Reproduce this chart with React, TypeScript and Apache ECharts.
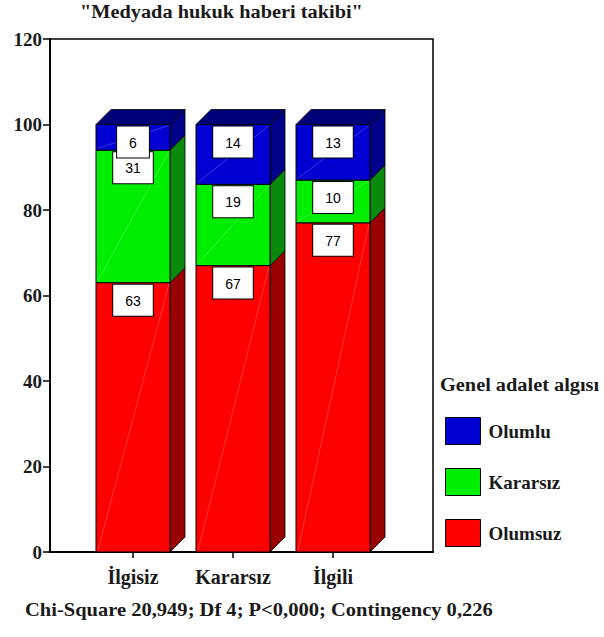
import React, { useEffect, useRef } from "react";
import * as echarts from "echarts";

const categories = ["İlgisiz", "Kararsız", "İlgili"];
const seriesNames = ["Olumsuz", "Kararsız", "Olumlu"];
const olumsuz = [63, 67, 77];
const kararsiz = [31, 19, 10];
const olumlu = [6, 14, 13];
const yTicks = [0, 20, 40, 60, 80, 100, 120];
const legendOrder = ["Olumlu", "Kararsız", "Olumsuz"];
const titleText = '"Medyada hukuk haberi takibi"';
const legendTitle = "Genel adalet algısı";
const footerText = "Chi-Square 20,949; Df 4; P<0,000; Contingency 0,226";

const colors = {
  Olumsuz: { front: "#ff0000", side: "#9a0000", top: "#7a0000" },
  Kararsız: { front: "#00ee00", side: "#0a8a0a", top: "#066006" },
  Olumlu: { front: "#0000d2", side: "#00008a", top: "#000078" },
} as Record<string, { front: string; side: string; top: string }>;

const SERIF = "Liberation Serif";
const SANS = "Liberation Sans";
const INK = "#1a1a1a";

export default function App() {
  const ref = useRef<HTMLDivElement>(null);
  useEffect(() => {
    if (!ref.current) return;
    const chart = echarts.init(ref.current, null, { renderer: "svg" });
    const stacks = [olumsuz, kararsiz, olumlu];
    const seriesList = seriesNames.map((name, si) => {
      const data = categories.map((_, ci) => {
        let base = 0;
        for (let k = 0; k < si; k++) base += stacks[k][ci];
        return [ci, base, base + stacks[si][ci], stacks[si][ci]];
      });
      const isTop = si === seriesNames.length - 1;
      const c = colors[name];
      return {
        name,
        type: "custom",
        xAxisIndex: 1,
        yAxisIndex: 1,
        itemStyle: { color: c.front, borderColor: "#000", borderWidth: 1 },
        encode: { x: 0, y: [1, 2] },
        data,
        z: 2 + si,
        renderItem: (params: any, api: any) => {
          const cat = api.value(0);
          const base = api.value(1);
          const top = api.value(2);
          const val = api.value(3);
          const pb = api.coord([cat, base]);
          const pt = api.coord([cat, top]);
          const band = api.size([1, 0])[0];
          const w = band * 0.74;
          const d = band * 0.15;
          const x0 = pb[0] - w / 2;
          const x1 = pb[0] + w / 2;
          const yb = pb[1];
          const yt = pt[1];
          const children: any[] = [
            {
              type: "polygon",
              shape: { points: [[x1, yt], [x1 + d, yt - d], [x1 + d, yb - d], [x1, yb]] },
              style: { fill: c.side, stroke: "#000", lineWidth: 0.8 },
            },
            {
              type: "rect",
              shape: { x: x0, y: yt, width: w, height: yb - yt },
              style: { fill: c.front, stroke: "#000", lineWidth: 1 },
            },
            {
              type: "line",
              shape: { x1: x0 + 2, y1: yb - 2, x2: x1 - 1, y2: yt + 1 },
              style: { stroke: "rgba(255,255,255,0.22)", lineWidth: 1 },
            },
          ];
          if (isTop) {
            children.push({
              type: "polygon",
              shape: { points: [[x0, yt], [x0 + d, yt - d], [x1 + d, yt - d], [x1, yt]] },
              style: { fill: c.top, stroke: "#000", lineWidth: 0.8 },
            });
          }
          children.push({
            type: "text",
            z2: 10,
            style: {
              text: String(val),
              x: pb[0],
              y: yt + 2,
              align: "center",
              verticalAlign: "top",
              fill: "#000",
              fontFamily: SANS,
              fontSize: 14,
              backgroundColor: "#fff",
              borderColor: "#000",
              borderWidth: 1,
              padding: [9, 12, 8, 12],
            },
          });
          return { type: "group", children };
        },
      };
    });

    const labelFont = { fontFamily: SERIF, fontWeight: "bold", fontSize: 19, color: INK };

    chart.setOption({
      animation: false,
      backgroundColor: "#fff",
      grid: [
        {
          left: 50,
          top: 39,
          width: 383,
          height: 513,
          show: true,
          borderColor: "#000",
          borderWidth: 1.5,
          backgroundColor: "transparent",
        },
        { left: 83, top: 39, width: 300, height: 513 },
      ],
      xAxis: [
        {
          gridIndex: 0,
          type: "category",
          data: categories,
          axisLine: { show: true, lineStyle: { color: "#000", width: 2 } },
          axisTick: { show: false },
          axisLabel: { show: false },
        },
        {
          gridIndex: 1,
          type: "category",
          data: categories,
          axisLine: { show: false },
          axisTick: { show: true, alignWithLabel: true, length: 6, lineStyle: { color: "#000", width: 1.5 } },
          axisLabel: { margin: 15, ...labelFont, fontSize: 20 },
        },
      ],
      yAxis: [
        {
          gridIndex: 0,
          type: "value",
          min: yTicks[0],
          max: yTicks[yTicks.length - 1],
          interval: 20,
          splitLine: { show: false },
          axisLine: { show: true, lineStyle: { color: "#000", width: 2 } },
          axisTick: { show: true, length: 7, lineStyle: { color: "#000", width: 1.5 } },
          axisLabel: { margin: 8, ...labelFont },
        },
        {
          gridIndex: 1,
          type: "value",
          min: yTicks[0],
          max: yTicks[yTicks.length - 1],
          interval: 20,
          show: false,
          splitLine: { show: false },
        },
      ],
      legend: {
        orient: "vertical",
        left: 440,
        top: 412,
        itemWidth: 35,
        itemHeight: 27,
        itemGap: 23,
        selectedMode: false,
        icon: "rect",
        data: legendOrder,
        itemStyle: { borderColor: "#000", borderWidth: 1 },
        textStyle: { ...labelFont, padding: [0, 0, 0, 3] },
      },
      graphic: [
        {
          type: "text",
          x: 80,
          y: 12,
          scaleX: 1.13,
          style: {
            text: titleText,
            fontFamily: SERIF,
            fontWeight: "bold",
            fontSize: 18,
            fill: INK,
            align: "left",
            verticalAlign: "middle",
          },
        },
        {
          type: "text",
          x: 440,
          y: 385,
          scaleX: 1.13,
          style: {
            text: legendTitle,
            fontFamily: SERIF,
            fontWeight: "bold",
            fontSize: 18,
            fill: INK,
            align: "left",
            verticalAlign: "middle",
          },
        },
        {
          type: "text",
          x: 25,
          y: 610,
          scaleX: 1.14,
          style: {
            text: footerText,
            fontFamily: SERIF,
            fontWeight: "bold",
            fontSize: 18,
            fill: INK,
            align: "left",
            verticalAlign: "middle",
          },
        },
      ],
      series: seriesList,
    });
    return () => chart.dispose();
  }, []);
  return (
    <div
      ref={ref}
      style={{ position: "fixed", left: 0, top: 0, width: 604, height: 637 }}
    />
  );
}
